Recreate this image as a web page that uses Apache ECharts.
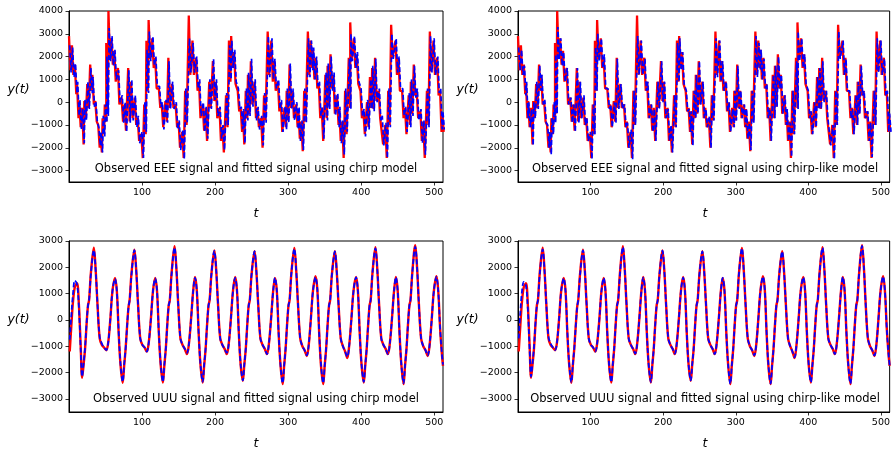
<!DOCTYPE html>
<html>
<head>
<meta charset="utf-8">
<script src="https://cdn.jsdelivr.net/npm/echarts@6/dist/echarts.min.js"></script>
<style>
html,body{margin:0;padding:0;background:#fff;}
#c{width:893px;height:452px;}
</style>
</head>
<body>
<div id="c"></div>
<script>
// ---------- EEE signal (band readings: upper / lower edge of the jagged trace) ----------
const eeeT = [
1,5,9,12,15,19,22,26,30,33,
37,41,44,47,50,52,55,59,63,68,
73,77,82,86,91,95,100,104,107,110,
115,119,124,128,133,137,142,147,151,156,
160,165,170,175,179,184,188,193,198,202,
207,211,216,220,223,227,232,236,239,243,
246,250,255,259,264,268,273,278,282,287,
291,296,299,303,307,312,315,319,323,328,
332,335,339,343,347,352,355,359,363,368,
371,375,379,384,386,391,395,400,404,409,
413,416,420,425,429,434,438,442,448,452,
457,461,466,469,473,477,482,486,491,495,
500,505,509,512];
const eeeObsHi = [
2900,2500,1650,800,50,-250,50,800,1650,1200,
50,-1000,-1400,-700,-100,2600,4000,2800,2250,1500,
200,-100,1500,900,200,-700,-1400,-100,2700,3600,
2800,1950,600,-100,50,1950,800,-100,-850,-1300,
500,3800,2700,1950,900,-100,-250,900,1800,900,
-250,-1100,300,2700,2900,2200,500,-250,-400,500,
1200,1800,900,-250,-700,300,3100,2700,1800,900,
0,-250,500,1650,500,-100,-300,-850,500,3100,
2700,2300,1950,800,-250,1200,1600,2100,1200,300,
-300,-850,500,1950,3500,2800,2100,500,-400,0,
1100,1500,1950,500,-700,-1000,500,3400,2700,1950,
500,-250,300,900,1650,500,-400,-850,500,3100,
2700,1950,500,-500];
const eeeObsLo = [
1400,1200,350,-700,-1100,-1850,-700,-250,500,-100,
-850,-2000,-2200,-1400,-850,-500,1900,1650,900,-100,
-850,-1250,-850,-700,-1000,-1700,-2450,-1400,500,1900,
1500,600,-250,-1100,-850,-250,-250,-1100,-2000,-2450,
-1000,1200,1200,500,-700,-1250,-1700,-250,50,-700,
-1700,-2200,-1100,900,1500,800,-400,-1300,-1850,-700,
-500,-100,-700,-1100,-2000,-800,1200,900,500,-400,
-1300,-1100,-800,-250,-700,-1100,-1600,-2150,-850,1200,
1500,1000,600,-700,-1700,-700,-200,600,-500,-1000,
-1700,-2450,-1400,-250,1900,1500,800,-700,-1400,-1100,
-250,-300,50,-700,-1850,-2450,-1000,1950,1200,500,
-700,-1400,-1000,-500,300,-700,-1700,-2450,-1000,1350,
1200,300,-1300,-1300];
const eeeChirpHi = [
2500,2400,1700,900,100,-300,100,900,1500,1100,
0,-1100,-1300,-600,-100,2000,3250,2900,2300,1400,
300,0,1400,1000,300,-600,-1300,0,2300,3100,
2900,2000,700,0,100,1800,900,0,-800,-1200,
600,2800,2600,2000,1000,0,-200,1000,1900,1000,
-200,-1000,400,2500,2700,2300,600,-200,-300,600,
1300,1900,1000,-200,-600,400,2900,2800,1900,1000,
100,-200,600,1700,600,0,-200,-800,600,2800,
2700,2400,2000,900,-200,1300,1700,2000,1300,400,
-200,-800,600,1900,3000,2900,2200,600,-300,100,
1000,1600,1900,600,-600,-900,600,3000,2800,2000,
600,-200,400,1000,1600,600,-300,-800,600,2900,
2800,2000,600,-400];
const eeeChirpLo = [
1300,1100,400,-600,-1200,-1800,-800,-300,400,-200,
-900,-1900,-2200,-1500,-900,-600,1800,1600,1000,0,
-900,-1300,-900,-800,-1100,-1800,-2450,-1300,400,1800,
1600,700,-200,-1200,-900,-300,-300,-1200,-2100,-2500,
-900,1300,1300,600,-600,-1300,-1600,-300,100,-600,
-1600,-2100,-1000,1000,1500,900,-300,-1200,-1800,-800,
-600,-200,-800,-1200,-1900,-900,1100,1000,600,-300,
-1300,-1200,-900,-300,-800,-1200,-1700,-2100,-900,1100,
1400,1000,700,-600,-1600,-800,-300,500,-600,-1100,
-1800,-2300,-1300,-300,1800,1500,900,-600,-1500,-1200,
-300,-400,0,-800,-1900,-2450,-1100,1900,1300,600,
-600,-1300,-1100,-600,200,-800,-1800,-2300,-1100,1300,
1200,400,-1200,-1200];
const eeeLikeHi = [
2400,2300,1600,900,0,-300,0,900,1600,1200,
100,-1000,-1300,-700,0,2100,3300,2800,2200,1500,
200,-100,1500,900,300,-700,-1300,-100,2400,3000,
2800,2100,600,-100,0,1900,800,-100,-900,-1200,
500,2900,2700,1900,900,-100,-300,900,1800,900,
-300,-1000,300,2600,2800,2200,500,-300,-400,500,
1200,1800,900,-300,-600,300,2800,2700,1800,900,
0,-300,500,1600,500,-100,-300,-900,500,2900,
2600,2300,1900,800,-300,1200,1600,2000,1200,300,
-300,-900,500,1800,3100,2800,2100,500,-400,0,
1100,1500,1800,500,-700,-1000,500,3100,2700,1900,
500,-300,300,900,1600,500,-400,-900,500,2800,
2700,1900,500,-500];
const eeeLikeLo = [
1400,1200,300,-700,-1100,-1900,-700,-300,500,-100,
-900,-2000,-2300,-1400,-900,-500,1900,1600,900,-100,
-900,-1300,-900,-700,-1000,-1700,-2500,-1400,500,1800,
1500,600,-300,-1100,-900,-300,-300,-1100,-2000,-2500,
-1000,1200,1200,500,-700,-1300,-1700,-300,0,-700,
-1700,-2200,-1100,900,1400,800,-400,-1300,-1900,-700,
-500,-100,-700,-1100,-2000,-800,1100,900,500,-400,
-1300,-1100,-800,-300,-700,-1100,-1600,-2100,-900,1100,
1400,1000,600,-700,-1700,-700,-200,600,-500,-1000,
-1700,-2400,-1400,-300,1800,1500,800,-700,-1400,-1100,
-300,-300,0,-700,-1900,-2500,-1000,1900,1200,500,
-700,-1400,-1000,-500,300,-700,-1700,-2400,-1000,1300,
1200,300,-1300,-1300];

// ---------- UUU signal ----------
const uuuT = [
1,3,5.5,8,11,13.5,16,
18,20,22,24,26,27.5,30,34,36.5,39,42,45,48,51,53.5,56.5,59.5,63,65.5,68,70.5,
73.5,75.5,77.5,79.5,81.5,83,85.5,89.5,92,94.5,97.5,100.5,103.5,106.5,109,112,115,118,120.5,123,125.5,
128.5,130.5,132.5,134.5,136.5,138,140.5,144.5,147,149.5,152.5,155.5,158.5,161.5,164,167,170,172.5,175,177.5,180,
183,185,187,189,191,192.5,195,199,201.5,204,207,210,213,216,218.5,221.5,224.5,227.5,230,232.5,235,
238,240,242,244,246,247.5,250,254,256.5,259,262,265,268,271,273.5,276.5,279.5,282,284.5,287,289.5,
292.5,294.5,296.5,298.5,300.5,302,304.5,308.5,311,313.5,316.5,319.5,322.5,325.5,328,331,334,337.5,340,342.5,345,
348,350,352,354,356,357.5,360,364,366.5,369,372,375,378,381,383.5,386.5,389.5,393,395.5,398,400.5,
403.5,405.5,407.5,409.5,411.5,413,415.5,419.5,422,424.5,427.5,430.5,433.5,436.5,439,442,445,447.5,450,452.5,455,
458,460,462,464,466,467.5,470,474,476.5,479,482,485,488,491,493.5,496.5,499.5,503,505.5,508,510.5,512];
const uuuObs = [
-1200,-300,700,1250,1400,600,-1000,
-2200,-1700,-1100,-200,550,750,1800,2750,1900,600,-700,-950,-1050,-1150,-900,0,1100,1600,1100,-500,-1700,
-2390,-1750,-1100,-250,500,750,1750,2670,1900,600,-700,-950,-1050,-1200,-900,0,1100,1600,1100,-500,-1700,
-2380,-1750,-1100,-200,550,750,1800,2800,1950,600,-700,-950,-1100,-1300,-950,0,1100,1630,1100,-500,-1700,
-2380,-1750,-1100,-200,550,750,1750,2640,1900,600,-700,-950,-1100,-1300,-950,0,1100,1630,1100,-500,-1700,
-2310,-1700,-1100,-200,550,750,1750,2610,1850,600,-700,-950,-1100,-1300,-950,0,1100,1600,1100,-500,-1700,
-2440,-1750,-1100,-200,550,750,1800,2740,1900,600,-700,-1000,-1150,-1370,-1000,0,1100,1660,1150,-500,-1750,
-2440,-1750,-1100,-200,550,750,1750,2610,1850,600,-700,-1000,-1200,-1450,-1000,0,1100,1630,1100,-500,-1700,
-2380,-1750,-1100,-200,550,750,1800,2760,1950,600,-700,-950,-1100,-1300,-950,0,1100,1630,1100,-500,-1700,
-2440,-1750,-1100,-200,550,750,1800,2840,2000,600,-700,-1000,-1150,-1370,-1000,0,1100,1660,1100,-300,-1300,-1750];
const uuuChirp = [
-750,100,1000,1500,1350,500,-1100,
-2150,-1650,-1050,-150,550,750,1750,2650,1900,600,-650,-900,-1050,-1150,-900,0,1100,1560,1100,-450,-1650,
-2350,-1700,-1100,-250,500,750,1700,2650,1900,600,-700,-950,-1050,-1200,-900,0,1100,1580,1100,-500,-1650,
-2350,-1700,-1100,-200,550,750,1750,2750,1950,600,-700,-950,-1100,-1250,-950,0,1100,1600,1100,-500,-1700,
-2350,-1700,-1100,-200,550,750,1750,2620,1900,600,-700,-950,-1100,-1250,-950,0,1100,1600,1100,-500,-1700,
-2300,-1700,-1100,-200,550,750,1750,2600,1850,600,-700,-950,-1100,-1300,-950,0,1100,1600,1100,-500,-1700,
-2400,-1750,-1100,-200,550,750,1800,2700,1900,600,-700,-1000,-1150,-1350,-1000,0,1100,1620,1150,-500,-1700,
-2400,-1750,-1100,-200,550,750,1750,2600,1850,600,-700,-1000,-1200,-1400,-1000,0,1100,1620,1100,-500,-1700,
-2350,-1750,-1100,-200,550,750,1800,2720,1950,600,-700,-950,-1100,-1300,-950,0,1100,1620,1100,-500,-1700,
-2400,-1750,-1100,-200,550,750,1800,2780,2000,600,-700,-1000,-1150,-1350,-1000,0,1100,1640,1100,-300,-1300,-1700];
const uuuLike = [
-700,200,1100,1450,1300,450,-1100,
-2150,-1650,-1050,-150,550,750,1750,2680,1900,600,-650,-900,-1050,-1150,-900,0,1100,1580,1100,-450,-1650,
-2370,-1700,-1100,-250,500,750,1700,2640,1900,600,-700,-950,-1050,-1200,-900,0,1100,1590,1100,-500,-1700,
-2360,-1700,-1100,-200,550,750,1750,2770,1950,600,-700,-950,-1100,-1280,-950,0,1100,1610,1100,-500,-1700,
-2360,-1700,-1100,-200,550,750,1750,2630,1900,600,-700,-950,-1100,-1280,-950,0,1100,1610,1100,-500,-1700,
-2300,-1700,-1100,-200,550,750,1750,2600,1850,600,-700,-950,-1100,-1300,-950,0,1100,1600,1100,-500,-1700,
-2420,-1750,-1100,-200,550,750,1800,2720,1900,600,-700,-1000,-1150,-1350,-1000,0,1100,1640,1150,-500,-1700,
-2420,-1750,-1100,-200,550,750,1750,2600,1850,600,-700,-1000,-1200,-1420,-1000,0,1100,1620,1100,-500,-1700,
-2370,-1750,-1100,-200,550,750,1800,2740,1950,600,-700,-950,-1100,-1300,-950,0,1100,1630,1100,-500,-1700,
-2420,-1750,-1100,-200,550,750,1800,2810,2000,600,-700,-1000,-1150,-1350,-1000,0,1100,1650,1100,-300,-1300,-1720];

// ---------- ticks & texts ----------
const xTicks = [100,200,300,400,500];
const yTicksTop = [-3000,-2000,-1000,0,1000,2000,3000,4000];
const yTicksBot = [-3000,-2000,-1000,0,1000,2000,3000];
const captions = [
 'Observed EEE signal and fitted signal using chirp model',
 'Observed EEE signal and fitted signal using chirp-like model',
 'Observed UUU signal and fitted signal using chirp model',
 'Observed UUU signal and fitted signal using chirp-like model'];

// each band reading becomes one upper and one lower point of the jagged trace
function band(hi, lo, shift){
  const out=[];
  for(let i=0;i<eeeT.length;i++){
    out.push([eeeT[i]-1+shift, hi[i]]);
    out.push([eeeT[i]+1+shift, lo[i]]);
  }
  return out;
}
function pairs(t, v){ return t.map((x,i)=>[x, v[i]]); }

const FONT = '"DejaVu Sans", sans-serif';
const grids = [
  {left:69, top:11, width:374, height:171},
  {left:518, top:11, width:374, height:171},
  {left:69, top:241, width:374, height:171},
  {left:518, top:241, width:374, height:171}
];
const minus = v => String(v).replace('-', '\u2212');

const xAxes = grids.map((g,i)=>({
  gridIndex:i, type:'value', min:0, max:512,
  axisLine:{show:true, onZero:false, lineStyle:{color:'#000', width:1}},
  axisTick:{show:true, length:3.5, customValues:xTicks, lineStyle:{color:'#000', width:0.8}},
  axisLabel:{customValues:xTicks, color:'#000', fontSize:9.5, fontFamily:FONT, margin:6, formatter:minus},
  splitLine:{show:false}
}));
const yAxes = grids.map((g,i)=>{
  const ticks = i<2 ? yTicksTop : yTicksBot;
  return {
    gridIndex:i, type:'value', min:-3500, max: i<2 ? 4000 : 3000,
    axisLine:{show:true, onZero:false, lineStyle:{color:'#000', width:1}},
    axisTick:{show:true, length:3.5, customValues:ticks, lineStyle:{color:'#000', width:0.8}},
    axisLabel:{customValues:ticks, color:'#000', fontSize:9.5, fontFamily:FONT, margin:6, formatter:minus},
    splitLine:{show:false}
  };
});

function redLine(i, data, w){
  return {type:'line', xAxisIndex:i, yAxisIndex:i, data:data, showSymbol:false, symbol:'none',
    lineStyle:{color:'#ff0000', width:w}, z:2, animation:false};
}
function blueLine(i, data, w){
  return {type:'line', xAxisIndex:i, yAxisIndex:i, data:data, showSymbol:false, symbol:'none',
    lineStyle:{color:'#0000ff', width:w, type:[5,2.5]}, z:3, animation:false};
}
const smoothRed = (i,d)=>Object.assign(redLine(i,d,2.4),{smooth:0.35});
const smoothBlue = (i,d)=>Object.assign(blueLine(i,d,1.8),{smooth:0.35});

const series = [
  redLine(0, band(eeeObsHi, eeeObsLo, 0), 2.3),
  blueLine(0, band(eeeChirpHi, eeeChirpLo, 0.9), 1.7),
  redLine(1, band(eeeObsHi, eeeObsLo, 0), 2.3),
  blueLine(1, band(eeeLikeHi, eeeLikeLo, 0.9), 1.7),
  smoothRed(2, pairs(uuuT, uuuObs)),
  smoothBlue(2, pairs(uuuT, uuuChirp)),
  smoothRed(3, pairs(uuuT, uuuObs)),
  smoothBlue(3, pairs(uuuT, uuuLike))
];

const graphics = [];
const centersX = [256, 705, 256, 705];
const capY = [169, 169, 399, 399];
grids.forEach((g,i)=>{
  graphics.push({type:'text', z:100, style:{text:captions[i], x:centersX[i], y:capY[i], align:'center', verticalAlign:'middle', font:'11.5px '+FONT, fill:'#000'}});
  graphics.push({type:'text', z:100, style:{text:'y(t)', x:g.left-50.5, y: i<2 ? 90 : 320, align:'center', verticalAlign:'middle', font:'italic 12.5px '+FONT, fill:'#000'}});
  graphics.push({type:'text', z:100, style:{text:'t', x:centersX[i], y: i<2 ? 214 : 444, align:'center', verticalAlign:'middle', font:'italic 12.5px '+FONT, fill:'#000'}});
});

const chart = echarts.init(document.getElementById('c'), null, {renderer:'canvas'});
chart.setOption({
  animation:false,
  backgroundColor:'#fff',
  grid: grids.map(g=>Object.assign({show:true, borderColor:'#000', borderWidth:1, backgroundColor:'transparent', containLabel:false}, g)),
  xAxis:xAxes, yAxis:yAxes, series:series, graphic:graphics
});
</script>
</body>
</html>
